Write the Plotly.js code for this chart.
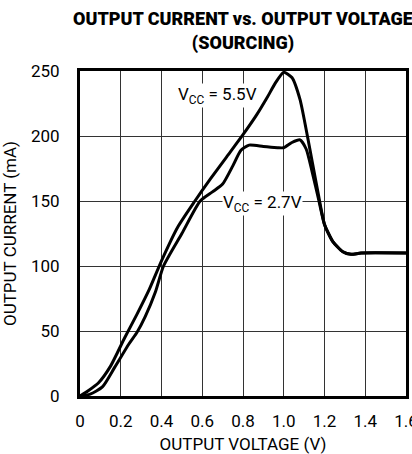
<!DOCTYPE html>
<html>
<head>
<meta charset="utf-8">
<script src="https://cdn.plot.ly/plotly-3.0.1.min.js"></script>
<style>
html,body{margin:0;padding:0;background:#fff;overflow:hidden;}
#chart{width:412px;height:454px;}
</style>
</head>
<body>
<div id="chart"></div>
<script>
// Vcc = 5.5V curve
const v55 = [0, 0.04, 0.09, 0.15, 0.22, 0.28, 0.34, 0.40, 0.48, 0.564, 0.64, 0.72, 0.80, 0.87, 0.92, 0.96, 1.00, 1.04, 1.08, 1.11, 1.14, 1.17, 1.20, 1.24, 1.29, 1.33, 1.38, 1.60];
const i55 = [0, 4, 10, 23, 45, 63, 82, 104, 130, 150, 167, 184, 201, 217, 230, 241, 249, 245, 228, 205, 180, 155, 132, 119, 111, 109, 110, 110];
// Vcc = 2.7V curve
const v27 = [0, 0.05, 0.11, 0.17, 0.24, 0.28, 0.32, 0.37, 0.41, 0.50, 0.59, 0.65, 0.70, 0.75, 0.79, 0.83, 0.90, 0.97, 1.00, 1.04, 1.08, 1.11, 1.14, 1.17, 1.20, 1.24, 1.29, 1.33, 1.38, 1.60];
const i27 = [0, 1.5, 7, 22, 40, 49, 61, 80, 100, 125, 150, 157, 163, 177, 189, 193, 192, 191, 191, 195, 197, 190, 172, 152, 132, 119, 111, 109, 110, 110];

const xTickVals = [0, 0.2, 0.4, 0.6, 0.8, 1.0, 1.2, 1.4, 1.6];
const xTickText = ["0", "0.2", "0.4", "0.6", "0.8", "1.0", "1.2", "1.4", "1.6"];
const yTickVals = [0, 50, 100, 150, 200, 250];
const yTickText = ["0", "50", "100", "150", "200", "250"];

const FONT = "Roboto, 'Liberation Sans', sans-serif";

const lineStyle = {color: '#000', width: 3, shape: 'spline', smoothing: 0.6};
const traces = [
  {x: v55, y: i55, mode: 'lines', line: lineStyle, hoverinfo: 'skip', showlegend: false},
  {x: v27, y: i27, mode: 'lines', line: lineStyle, hoverinfo: 'skip', showlegend: false}
];

const layout = {
  width: 412, height: 454,
  margin: {l: 80, r: 6, t: 71, b: 58, pad: 0},
  paper_bgcolor: '#fff', plot_bgcolor: '#fff',
  font: {family: FONT, color: '#000', size: 17},
  title: {
    text: 'OUTPUT CURRENT vs. OUTPUT VOLTAGE<br>(SOURCING)',
    font: {family: FONT, size: 18, color: '#000', weight: 900},
    xref: 'paper', x: 0.5, xanchor: 'center',
    yref: 'container', y: 0.944, yanchor: 'top'
  },
  xaxis: {
    range: [0, 1.6], tickvals: xTickVals, ticktext: xTickText,
    showgrid: true, gridcolor: '#333', gridwidth: 1,
    showline: true, linecolor: '#000', linewidth: 3, mirror: true,
    ticks: '', ticklabelstandoff: 8, zeroline: false, ticklabeloverflow: 'allow',
    tickfont: {family: FONT, size: 17, color: '#000'},
    title: {text: 'OUTPUT VOLTAGE (V)', font: {family: FONT, size: 17, color: '#000'}, standoff: 15}
  },
  yaxis: {
    range: [0, 250], tickvals: yTickVals, ticktext: yTickText,
    showgrid: true, gridcolor: '#333', gridwidth: 1,
    showline: true, linecolor: '#000', linewidth: 3, mirror: true,
    ticks: '', ticklabelstandoff: 14, zeroline: false,
    tickfont: {family: FONT, size: 17, color: '#000'},
    title: {text: 'OUTPUT CURRENT (mA)', font: {family: FONT, size: 17, color: '#000'}, standoff: 12}
  },
  annotations: [
    {x: 0.673, y: 231, xref: 'x', yref: 'y', text: 'V<sub>CC</sub> = 5.5V', showarrow: false,
     bgcolor: '#fff', borderpad: 0, font: {family: FONT, size: 17, color: '#000'}},
    {x: 0.898, y: 148, xref: 'x', yref: 'y', text: 'V<sub>CC</sub> = 2.7V', showarrow: false,
     bgcolor: '#fff', borderpad: 0, font: {family: FONT, size: 17, color: '#000'}}
  ]
};

Plotly.newPlot('chart', traces, layout, {displayModeBar: false, staticPlot: true});
</script>
</body>
</html>
